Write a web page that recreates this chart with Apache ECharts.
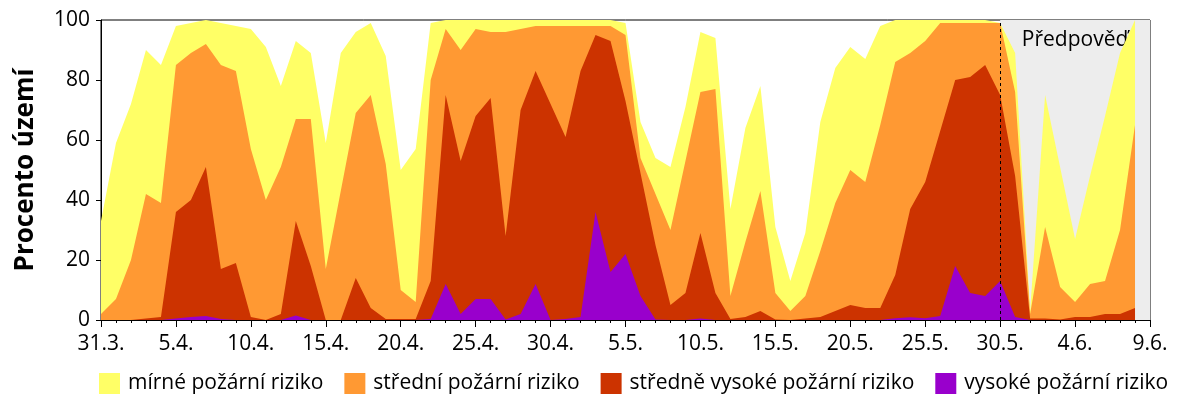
<!DOCTYPE html>
<html>
<head>
<meta charset="utf-8">
<script src="https://cdn.jsdelivr.net/npm/echarts@6/dist/echarts.min.js"></script>
<style>
  html, body { margin: 0; padding: 0; background: #fff; }
  #chart { width: 1200px; height: 400px; }
</style>
</head>
<body>
<div id="chart"></div>
<script>
// dny 31.3. - 9.6. (data končí 8.6.)
var dates = [
    '31.3.', '1.4.', '2.4.', '3.4.', '4.4.', '5.4.', '6.4.', '7.4.', '8.4.', '9.4.',
    '10.4.', '11.4.', '12.4.', '13.4.', '14.4.', '15.4.', '16.4.', '17.4.', '18.4.', '19.4.',
    '20.4.', '21.4.', '22.4.', '23.4.', '24.4.', '25.4.', '26.4.', '27.4.', '28.4.', '29.4.',
    '30.4.', '1.5.', '2.5.', '3.5.', '4.5.', '5.5.', '6.5.', '7.5.', '8.5.', '9.5.',
    '10.5.', '11.5.', '12.5.', '13.5.', '14.5.', '15.5.', '16.5.', '17.5.', '18.5.', '19.5.',
    '20.5.', '21.5.', '22.5.', '23.5.', '24.5.', '25.5.', '26.5.', '27.5.', '28.5.', '29.5.',
    '30.5.', '31.5.', '1.6.', '2.6.', '3.6.', '4.6.', '5.6.', '6.6.', '7.6.', '8.6.',
    '9.6.'
];

var seriesNames = ['mírné požární riziko', 'střední požární riziko', 'středně vysoké požární riziko', 'vysoké požární riziko'];
var colors = ['#ffff66', '#ff9933', '#cc3300', '#9900cc'];

// procento území (kumulativně - alespoň daný stupeň)
var mirne = [
    33, 59, 72, 90, 85, 98, 99, 100, 99, 98,
    97, 91, 78, 93, 89, 59, 89, 96, 99, 88,
    50, 57, 99, 100, 100, 100, 100, 100, 100, 100,
    100, 100, 100, 100, 100, 99, 66, 54, 51, 71,
    96, 94, 37, 64, 78, 31, 13, 29, 66, 84,
    91, 87, 98, 100, 100, 100, 100, 100, 100, 100,
    99, 89, 3, 75, 51, 27, 48, 68, 89, 100
];
var stredni = [
    2, 7, 20, 42, 39, 85, 89, 92, 85, 83,
    57, 40, 51, 67, 67, 17, 43, 69, 75, 52,
    10, 6, 80, 97, 90, 97, 96, 96, 97, 98,
    98, 98, 98, 98, 98, 95, 54, 42, 30, 53,
    76, 77, 8, 26, 43, 9, 3, 8, 23, 39,
    50, 46, 65, 86, 89, 93, 99, 99, 99, 99,
    99, 76, 2, 31, 11, 6, 12, 13, 30, 65
];
var strVysoke = [
    0, 0, 0, 0.5, 1, 36, 40, 51, 17, 19,
    1, 0, 2, 33, 18, 0, 0, 14, 4, 0.3,
    0.3, 0.3, 13, 75, 53, 68, 74, 28, 70, 83,
    72, 61, 83, 95, 93, 73, 49, 25, 5, 9,
    29, 9, 0.3, 1, 3, 0.2, 0, 0.5, 1, 3,
    5, 4, 4, 15, 37, 46, 63, 80, 81, 85,
    75, 48, 0.5, 0.5, 0.2, 1, 1, 2, 2, 4
];
var vysoke = [
    0, 0, 0, 0, 0, 0.5, 1, 1.3, 0.3, 0,
    0, 0, 0, 1.5, 0, 0, 0, 0, 0, 0,
    0, 0, 0.3, 12, 2, 7, 7, 0.2, 2, 12,
    0, 0.3, 1, 36, 16, 22, 8, 0.2, 0, 0,
    0.5, 0, 0, 0, 0, 0, 0, 0, 0, 0,
    0, 0, 0, 0.6, 0.9, 0.6, 1.3, 18, 9, 8,
    13, 1, 0, 0, 0, 0, 0, 0, 0, 0
];

var forecastFrom = '30.5.';
var forecastTo = '9.6.';

var fontName = 'Open Sans';

var chart = echarts.init(document.getElementById('chart'));

var areaSeries = [mirne, stredni, strVysoke, vysoke].map(function (vals, i) {
    return {
        name: seriesNames[i],
        type: 'line',
        data: vals,
        z: 2,
        symbol: 'none',
        smooth: false,
        color: colors[i],
        lineStyle: { width: 0 },
        areaStyle: { color: colors[i], opacity: 1 }
    };
});

// předpověď - šedé pozadí
areaSeries.unshift({
    type: 'line',
    data: [],
    z: 1,
    silent: true,
    markArea: {
        silent: true,
        itemStyle: { color: '#ededed' },
        label: {
            show: true,
            position: 'insideTop',
            distance: 10,
            color: '#000',
            fontSize: 21,
            fontFamily: fontName
        },
        data: [[{ name: 'Předpověď', xAxis: forecastFrom }, { xAxis: forecastTo }]]
    }
});

// přerušovaná čára začátku předpovědi
areaSeries[areaSeries.length - 1].markLine = {
    silent: true,
    symbol: 'none',
    label: { show: false },
    lineStyle: { color: '#000', width: 1, type: [3, 3] },
    data: [{ xAxis: forecastFrom }]
};

var option = {
    animation: false,
    textStyle: { fontFamily: fontName },
    grid: {
        left: 101,
        right: 50,
        top: 20,
        bottom: 80,
        show: true,
        borderColor: '#000',
        borderWidth: 1,
        backgroundColor: 'transparent'
    },
    legend: {
        data: seriesNames,
        left: 99,
        top: 373,
        padding: 0,
        icon: 'rect',
        itemWidth: 21,
        itemHeight: 21,
        itemGap: 21,
        textStyle: { fontSize: 21, color: '#000', fontFamily: fontName, padding: [0, 0, 0, 3] }
    },
    xAxis: [{
        type: 'category',
        data: dates,
        boundaryGap: false,
        axisLine: { lineStyle: { color: '#000', width: 1 } },
        axisTick: { show: true, interval: 0, length: 3, lineStyle: { color: '#000' } },
        axisLabel: { interval: 4, margin: 14, fontSize: 21, color: '#000', fontFamily: fontName },
        splitLine: { show: false }
    }, {
        type: 'category',
        data: dates,
        position: 'bottom',
        boundaryGap: false,
        axisLine: { show: false },
        axisTick: { show: true, interval: 4, length: 7, lineStyle: { color: '#000' } },
        axisLabel: { show: false },
        splitLine: { show: false }
    }],
    yAxis: {
        type: 'value',
        min: 0,
        max: 100,
        interval: 20,
        name: 'Procento území',
        nameLocation: 'middle',
        nameRotate: 90,
        nameGap: 62,
        nameTextStyle: { fontSize: 26, fontWeight: 'bold', color: '#000', fontFamily: fontName },
        axisLine: { show: true, lineStyle: { color: '#000', width: 1 } },
        axisTick: { show: true, length: 5, lineStyle: { color: '#000' } },
        axisLabel: { margin: 11, fontSize: 21, color: '#000', fontFamily: fontName },
        splitLine: { show: false }
    },
    series: areaSeries
};

chart.setOption(option);
</script>
</body>
</html>
